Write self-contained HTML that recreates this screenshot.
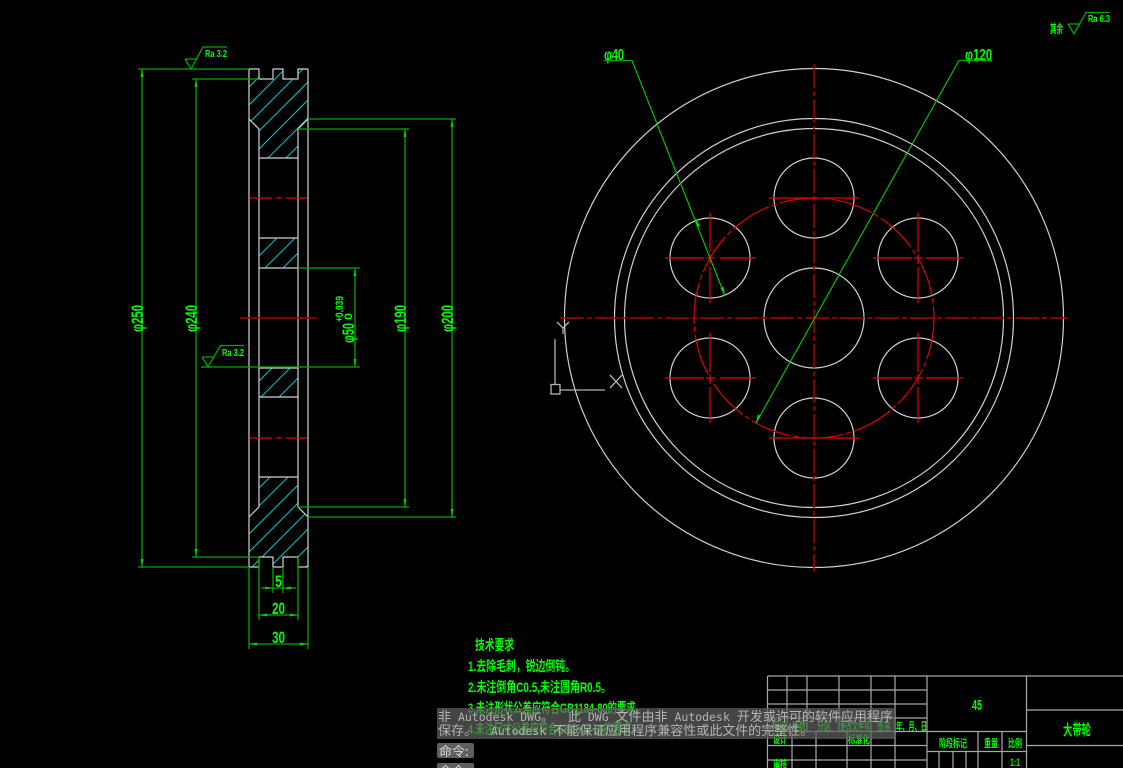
<!DOCTYPE html>
<html><head><meta charset="utf-8">
<style>
html,body{margin:0;padding:0;background:#000;width:1123px;height:768px;overflow:hidden}
#wrap{position:absolute;left:0;top:0;width:1123px;height:768px;overflow:hidden;background:#000}
svg{position:absolute;left:0;top:0}
text{font-family:"Liberation Sans","Noto Sans CJK SC",sans-serif;fill:#00ff00;font-weight:700}
.w{stroke:#d0d0d0;stroke-width:1.2;fill:none}
.g{stroke:#00c000;stroke-width:1.1;fill:none}
.gd{stroke:#00a800;stroke-width:1.3;fill:none}
.c{stroke:#00c8c8;stroke-width:1;fill:none}
.t{stroke:#a8a8a8;stroke-width:1.2;fill:none}
.msg{position:absolute;left:437px;top:708px;width:458px;height:31px;background:rgba(95,95,95,.72);color:#b4b4b4;font:11.5px/15px "DejaVu Sans Mono","Liberation Mono",monospace;white-space:pre;overflow:hidden}
.msg div{position:absolute;left:1px;height:15px;line-height:15px}
.msg span{font:13px/15px "Noto Sans CJK SC",sans-serif}
.cmd{position:absolute;left:437px;width:37px;height:15px;background:#5f5f5f;border-radius:2px;color:#d8d8d8;font:13px/15px "Noto Sans CJK SC",sans-serif;padding-left:2px;box-sizing:border-box;overflow:hidden}
</style></head><body>
<div id="wrap">
<svg width="1123" height="768" viewBox="0 0 1123 768" xmlns="http://www.w3.org/2000/svg">
<defs>
<clipPath id="h1"><polygon points="249,69 259,69 259,79 273,79 273,69 283,69 283,79 298,79 298,69 308,69 308,119 298,129 298,158 259,158 259,129 249,119"/></clipPath>
<clipPath id="h2"><polygon points="249,517 259,507 259,477 298,477 298,507 308,517 308,567 298,567 298,557 283,557 283,567 273,567 273,557 259,557 259,567 249,567"/></clipPath>
<clipPath id="h3"><rect x="259" y="238" width="39" height="30"/></clipPath>
<clipPath id="h4"><rect x="259" y="368" width="39" height="29"/></clipPath>
</defs>

<!-- hatch -->
<g class="c" clip-path="url(#h1)">
<path d="M236,100L336,0M236,118L354,0M236,136L372,0M236,154L390,0M236,172L408,0M236,190L426,0M236,208L444,0M236,226L462,0"/>
</g>
<g class="c" clip-path="url(#h2)">
<path d="M236,511L400,347M236,529L400,365M236,547L400,383M236,565L400,401M236,583L400,419M236,601L400,437M236,619L400,455M236,637L400,473"/>
</g>
<g class="c" clip-path="url(#h3)">
<path d="M236,279L400,115M236,297L400,133M236,315L400,151"/>
</g>
<g class="c" clip-path="url(#h4)">
<path d="M236,404L400,240M236,422L400,258M236,440L400,276M236,458L400,294"/>
</g>

<!-- left view outline -->
<g class="w">
<path d="M249,69V567M308,69V567"/>
<path d="M249,69H259V79H273V69H283V79H298V69H308"/>
<path d="M249,567H259V557H273V567H283V557H298V567H308"/>
<path d="M249,119L259,129V507L249,517M308,119L298,129V507L308,517"/>
<path d="M259,158H298M259,238H298M259,268H298M259,368H298M259,397H298M259,477H298"/>
</g>
<!-- left view centre marks -->
<g stroke-width="1.2" fill="none">
<path d="M250,198H271M276,198H281M286,198H307M250,438H271M276,438H281M286,438H307" stroke="#e00000"/>
<path d="M240,318H317" stroke="#a80000" stroke-width="1.4"/>
</g>

<!-- left dimensions -->
<g class="gd">
<path d="M138,69H249M192,79H259M138,567H249M192,557H259"/>
<path d="M142,69V567M196,79V557"/>
<path d="M308,119H456M298,129H409M298,507H409M308,517H456"/>
<path d="M452,119V517M405,129V507"/>
<path d="M298,268H360M201,367H360M355,268V367"/>
<path d="M249,567V649M308,567V649M259,557V620M298,557V620M273,567V593M283,567V593"/>
<path d="M249,644H308M259,615H298M261,588H296"/>
</g>
<g fill="#00d000" stroke="none">
<path d="M142,69l-1.500,8h3zM142,567l-1.500,-8h3zM196,79l-1.500,8h3zM196,557l-1.500,-8h3z"/>
<path d="M452,119l-1.500,8h3zM452,517l-1.500,-8h3zM405,129l-1.500,8h3zM405,507l-1.500,-8h3zM355,268l-1.500,8h3zM355,367l-1.500,-8h3z"/>
<path d="M249,644l8,-1.500v3zM308,644l-8,-1.500v3zM259,615l8,-1.500v3zM298,615l-8,-1.500v3zM273,588l-8,-1.500v3zM283,588l8,-1.500v3z"/>
</g>

<!-- rotated dim text -->
<g font-size="17">
<text transform="translate(143,332) rotate(-90)" textLength="27" lengthAdjust="spacingAndGlyphs">φ250</text>
<text transform="translate(197,332) rotate(-90)" textLength="27" lengthAdjust="spacingAndGlyphs">φ240</text>
<text transform="translate(406,332) rotate(-90)" textLength="27" lengthAdjust="spacingAndGlyphs">φ190</text>
<text transform="translate(453,332) rotate(-90)" textLength="27" lengthAdjust="spacingAndGlyphs">φ200</text>
<text transform="translate(354,343) rotate(-90)" textLength="20" lengthAdjust="spacingAndGlyphs">φ50</text>
<text transform="translate(343,322) rotate(-90)" font-size="11" textLength="26" lengthAdjust="spacingAndGlyphs">+0.039</text>
<text transform="translate(352,320) rotate(-90)" font-size="11" textLength="7" lengthAdjust="spacingAndGlyphs">0</text>
<text x="275" y="587" textLength="7" lengthAdjust="spacingAndGlyphs">5</text>
<text x="272" y="614" textLength="13" lengthAdjust="spacingAndGlyphs">20</text>
<text x="272" y="643" textLength="13" lengthAdjust="spacingAndGlyphs">30</text>
<text x="604" y="60" font-size="16" textLength="20" lengthAdjust="spacingAndGlyphs">φ40</text>
<text x="965" y="60" font-size="16" textLength="27" lengthAdjust="spacingAndGlyphs">φ120</text>
</g>

<!-- roughness symbols -->
<g class="gd" stroke-width="1.1">
<path d="M185,59H196M185,59L191,69L203,47H227"/>
<path d="M202,357H213M202,357L208,367L220.5,345.5H244"/>
<path d="M1068,24H1079M1068,24L1074,34L1086,12.5H1110"/>
</g>
<g font-size="10">
<text x="205" y="57" textLength="22" lengthAdjust="spacingAndGlyphs">Ra 3.2</text>
<text x="222" y="356" textLength="22" lengthAdjust="spacingAndGlyphs">Ra 3.2</text>
<text x="1088" y="22" textLength="22" lengthAdjust="spacingAndGlyphs">Ra 6.3</text>
<text x="1050" y="33" font-size="12" textLength="13" lengthAdjust="spacingAndGlyphs">其余</text>
</g>

<!-- right view circles -->
<g class="w">
<circle cx="814" cy="318" r="249.500"/>
<circle cx="814" cy="318" r="199.500"/>
<circle cx="814" cy="318" r="189.500"/>
<circle cx="814" cy="318" r="50"/>
<circle cx="814" cy="198" r="40"/>
<circle cx="814" cy="438" r="40"/>
<circle cx="710" cy="258" r="40"/>
<circle cx="918" cy="258" r="40"/>
<circle cx="710" cy="378" r="40"/>
<circle cx="918" cy="378" r="40"/>
</g>
<!-- centre lines -->
<g fill="none">
<path d="M560,318H1068" stroke="#b00000" stroke-width="1.5" stroke-dasharray="24 3 5 3"/>
<path d="M814,64V572" stroke="#b00000" stroke-width="1.5" stroke-dasharray="24 3 5 3"/>
<circle cx="814" cy="318" r="120" stroke="#e00000" stroke-width="1.2" stroke-dasharray="42 3 5 3"/>
<g stroke="#e60000" stroke-width="1.2">
<path d="M665,258H704M706,258H715M720,258H756M710,213V252M710,254V264M710,267V303"/>
<path d="M873,258H912M914,258H923M926,258H963M918,213V252M918,254V264M918,267V303"/>
<path d="M665,378H704M706,378H715M720,378H756M710,333V372M710,374V384M710,387V423"/>
<path d="M873,378H912M914,378H923M926,378H963M918,333V372M918,374V384M918,387V423"/>
<path d="M769,198H808M810,198H819M822,198H859M769,438H808M810,438H819M822,438H859"/>
</g>
</g>

<!-- leaders -->
<g stroke="#00d000" stroke-width="1.1" fill="none">
<path d="M632,60.500L725,296"/>
<path d="M959,60.500L756,423"/>
</g>
<g stroke="#00a800" stroke-width="1.3" fill="none"><path d="M604,60.500H632M959,60.500H992"/></g>
<g fill="#00e000">
<path d="M725,296l-4.500,-8l3,-1.200z"/>
<path d="M695.500,218l4.500,8l-3,1.200z"/>
<path d="M756,423l1.800,-8.600l2.800,1.600z"/>
</g>

<!-- UCS -->
<g stroke="#b4b4b4" stroke-width="1.3" fill="none">
<path d="M555,339V385M560,390H605"/>
<rect x="551" y="384.500" width="9" height="9.500"/>
<path d="M557,322L563,328L569,322M563,328V334"/>
<path d="M610,375L622,388M622,375L610,388"/>
</g>

<!-- tech text -->
<g font-size="14">
<text x="475" y="650" textLength="39" lengthAdjust="spacingAndGlyphs">技术要求</text>
<text x="468" y="671" textLength="107" lengthAdjust="spacingAndGlyphs">1.去除毛刺，锐边倒钝。</text>
<text x="468" y="692" textLength="143" lengthAdjust="spacingAndGlyphs">2.未注倒角C0.5,未注圆角R0.5。</text>
<text x="468" y="713" textLength="177" lengthAdjust="spacingAndGlyphs">3.未注形状公差应符合GB1184-80的要求。</text>
<text x="468" y="734" textLength="172" lengthAdjust="spacingAndGlyphs">4.未注尺寸公差应符合GB1804-80的要求。</text>
</g>

<!-- title block -->
<g class="t">
<path d="M767.500,676H1123M767.500,690H927M767.500,704H927M767.500,718H927M767.500,731.500H1026M767.500,745.500H927M767.500,760H927"/>
<path d="M767.500,676V768M927,676V768M1026.500,676V768"/>
<path d="M787,676V731.500M807,676V731.500M839,676V731.500M871,676V768M895,676V768"/>
<path d="M792,731.500V768M816,731.500V768M847,731.500V768"/>
<path d="M927,751.500H1026M978,731.500V768M1002,731.500V768M939,751.500V768M953,751.500V768M966,751.500V768"/>
<path d="M1026,710H1123M1026,745.500H1123"/>
</g>
<g font-size="11">
<text x="772" y="730" textLength="14" lengthAdjust="spacingAndGlyphs">标记</text>
<text x="792" y="730" textLength="14" lengthAdjust="spacingAndGlyphs">处数</text>
<text x="817" y="730" textLength="14" lengthAdjust="spacingAndGlyphs">分区</text>
<text x="840" y="730" textLength="30" lengthAdjust="spacingAndGlyphs">更改文件号</text>
<text x="877" y="730" textLength="14" lengthAdjust="spacingAndGlyphs">签名</text>
<text x="896" y="730" textLength="31" lengthAdjust="spacingAndGlyphs">年、月、日</text>
<text x="773" y="743" textLength="14" lengthAdjust="spacingAndGlyphs">设计</text>
<text x="848" y="743" textLength="22" lengthAdjust="spacingAndGlyphs">标准化</text>
<text x="773" y="768" textLength="14" lengthAdjust="spacingAndGlyphs">审核</text>
<text x="939" y="747" textLength="28" lengthAdjust="spacingAndGlyphs">阶段标记</text>
<text x="984" y="747" textLength="14" lengthAdjust="spacingAndGlyphs">重量</text>
<text x="1008" y="747" textLength="14" lengthAdjust="spacingAndGlyphs">比例</text>
<text x="1010" y="766" textLength="10" lengthAdjust="spacingAndGlyphs">1:1</text>
<text x="972" y="710" font-size="15" textLength="10" lengthAdjust="spacingAndGlyphs">45</text>
<text x="1063" y="735" font-size="15" textLength="28" lengthAdjust="spacingAndGlyphs">大带轮</text>
</g>
</svg>
<div class="msg"><div style="top:0"><span>非</span> Autodesk DWG<span>。</span>  <span>此</span> DWG <span>文件由非</span> Autodesk <span>开发或许可的软件应用程序</span></div><div style="top:14px"><span>保存。</span>  Autodesk <span>不能保证应用程序兼容性或此文件的完整性。</span></div></div>
<div class="cmd" style="top:743px">命令:</div>
<div class="cmd" style="top:763px;height:5px;border-radius:2px 2px 0 0">命令:</div>
</div>
</body></html>
